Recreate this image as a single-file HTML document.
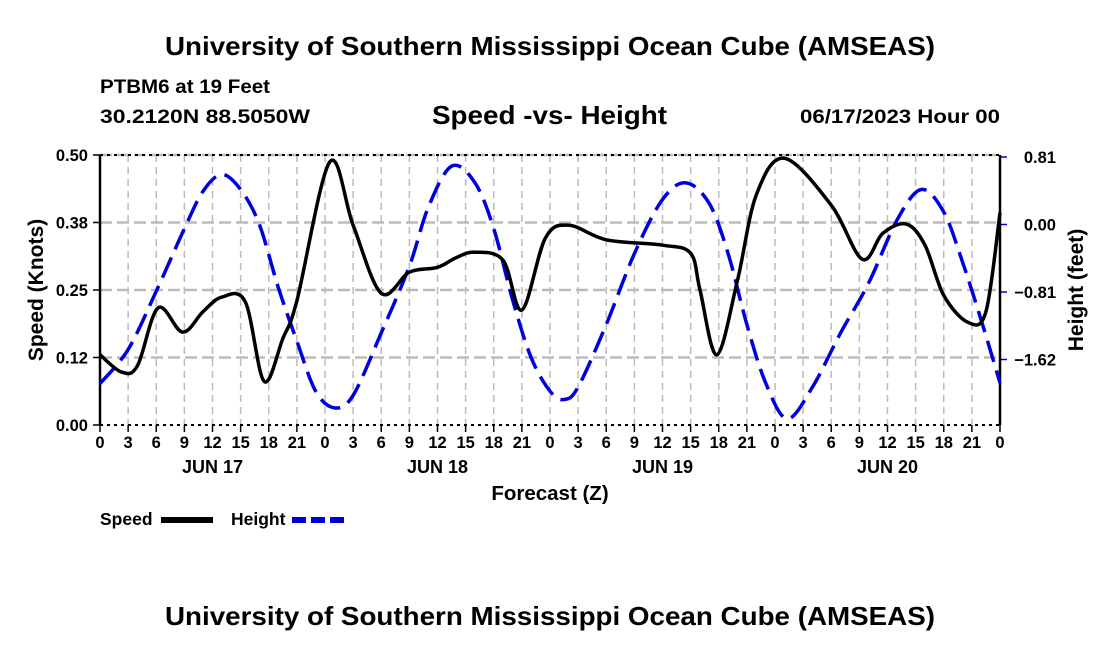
<!DOCTYPE html>
<html><head><meta charset="utf-8"><style>
body{margin:0;background:#fff;}
svg text{font-family:"Liberation Sans",Arial,sans-serif;font-weight:bold;fill:#000;}
</style></head><body>
<svg id="c" width="1100" height="650" xmlns="http://www.w3.org/2000/svg">
<text x="165" y="55" font-size="26" textLength="770" lengthAdjust="spacingAndGlyphs">University of Southern Mississippi Ocean Cube (AMSEAS)</text>
<text x="100" y="93" font-size="19.5" textLength="170" lengthAdjust="spacingAndGlyphs">PTBM6 at 19 Feet</text>
<text x="100" y="123" font-size="19.5" textLength="210" lengthAdjust="spacingAndGlyphs">30.2120N  88.5050W</text>
<text x="432" y="124" font-size="26" textLength="235" lengthAdjust="spacingAndGlyphs">Speed -vs- Height</text>
<text x="800" y="123" font-size="19.5" textLength="200" lengthAdjust="spacingAndGlyphs">06/17/2023 Hour 00</text>
<g id="grid"></g>
<g id="axes"></g>
<g id="series"></g>
<text x="550" y="500" text-anchor="middle" font-size="20.5">Forecast (Z)</text>
<text transform="translate(43,290) rotate(-90)" text-anchor="middle" font-size="21">Speed (Knots)</text>
<text transform="translate(1083,290) rotate(-90)" text-anchor="middle" font-size="21">Height (feet)</text>
<g>
<text x="100" y="525" font-size="17.5">Speed</text>
<rect x="161" y="517" width="52" height="6" fill="#000"/>
<text x="231" y="525" font-size="17.5">Height</text>
<line x1="292" y1="520" x2="344" y2="520" stroke="#0000dd" stroke-width="6" stroke-dasharray="14,5"/>
</g>
<text x="165" y="625" font-size="26" textLength="770" lengthAdjust="spacingAndGlyphs">University of Southern Mississippi Ocean Cube (AMSEAS)</text>
</svg>
<script>
const speedHours=[0,2.3,4,6.2,8.8,11,13,15.5,17.5,19.5,21,24.5,27,30,33,36,38,40,43,45,47.5,50,54,60,63,64,65.8,68,70,73,78,81.3,83.5,86,88,90,92.6,94.5,96];
const speedVals=[0.13,0.098,0.11,0.217,0.172,0.21,0.237,0.228,0.081,0.16,0.23,0.487,0.37,0.244,0.283,0.292,0.31,0.32,0.305,0.213,0.346,0.37,0.343,0.333,0.318,0.25,0.13,0.268,0.426,0.494,0.407,0.307,0.355,0.372,0.333,0.24,0.19,0.21,0.393];
const heightHours=[0,3,6,9,11,13,15,17,19,21,23,25,27,30,33,35,37.5,40,42,44,46,48,49.5,51,54,57,60,62.5,65,67,69,71,73.3,76,79,82,85,87.6,90,92,94,96];
const heightVals=[-1.91,-1.5,-0.8,-0.05,0.4,0.6,0.42,0.0,-0.75,-1.4,-2.0,-2.2,-2.05,-1.3,-0.5,0.2,0.7,0.5,-0.05,-0.9,-1.6,-2.0,-2.1,-1.95,-1.2,-0.35,0.3,0.5,0.25,-0.35,-1.2,-1.9,-2.33,-1.95,-1.3,-0.7,0.05,0.42,0.15,-0.45,-1.15,-1.9];
const xTickLabels=["0","3","6","9","12","15","18","21","0","3","6","9","12","15","18","21","0","3","6","9","12","15","18","21","0","3","6","9","12","15","18","21","0"];
const dayLabels=["JUN 17","JUN 18","JUN 19","JUN 20"];
const leftTicks=[0,0.125,0.25,0.375,0.5];
const leftTickLabels=["0.00","0.12","0.25","0.38","0.50"];
const rightTicks=[0.81,0,-0.81,-1.62];
const rightTickLabels=["0.81","0.00","\u22120.81","\u22121.62"];
const X0=100,X1=1000,Y0=425,Y1=155;
const xs=h=>X0+h/96*(X1-X0);
const ysL=v=>Y0-v/0.5*(Y0-Y1);
const yR=v=>157+(0.81-v)/0.81*67.5;
const NS="http://www.w3.org/2000/svg";
function mk(t,p,parent){const e=document.createElementNS(NS,t);for(const k in p)e.setAttribute(k,p[k]);parent.appendChild(e);return e;}
const grid=document.getElementById('grid'),axes=document.getElementById('axes'),ser=document.getElementById('series');
xTickLabels.forEach((l,i)=>{const x=xs(i*3);
 if(i>0&&i<32){const g=mk('line',{x1:x,y1:Y1,x2:x,y2:Y0,stroke:'#bbb','stroke-width':1.5,'stroke-dasharray':'7,5'},grid);
 
 }
 const tk=mk('line',{x1:x,y1:Y0,x2:x,y2:Y0+7,stroke:'#000','stroke-width':1.5},axes);
 
 
 const t=mk('text',{x:x,y:Y0+23,'text-anchor':'middle','font-size':16.5},axes);t.textContent=l;
 
 
});
dayLabels.forEach((d,i)=>{const t=mk('text',{x:xs(12+24*i),y:Y0+48,'text-anchor':'middle','font-size':18},axes);t.textContent=d;
 
 });
leftTicks.forEach((v,i)=>{const y=ysL(v);
 if(i>0){const g=mk('line',{x1:X0,y1:y,x2:X1,y2:y,stroke:'#bbb','stroke-width':2.5,'stroke-dasharray':'12,5'},grid);
 
 }
 const tk=mk('line',{x1:X0-7,y1:y,x2:X0,y2:y,stroke:'#000','stroke-width':1.5},axes);
 
 
 const t=mk('text',{x:X0-12,y:y+6,'text-anchor':'end','font-size':16.5},axes);t.textContent=leftTickLabels[i];
 
 });
rightTicks.forEach((v,i)=>{const y=yR(v);
 const tk=mk('line',{x1:X1,y1:y,x2:X1+7,y2:y,stroke:'#0000cc','stroke-width':1.5},axes);
 
 
 const t=mk('text',{x:1056,y:y+6,'text-anchor':'end','font-size':16.5},axes);t.textContent=rightTickLabels[i];
 
 });
[Y1,Y0].forEach(y=>{const l=mk('line',{x1:X0,y1:y,x2:X1,y2:y,stroke:'#000','stroke-width':2,'stroke-dasharray':'3,4'},axes);
 
 });
[X0,X1].forEach(x=>{const l=mk('line',{x1:x,y1:Y1,x2:x,y2:Y0,stroke:'#000','stroke-width':2.5},axes);
 
 });
function path(pts){let d=`M${pts[0][0]},${pts[0][1]}`;
 for(let i=0;i<pts.length-1;i++){const p0=pts[Math.max(0,i-1)],p1=pts[i],p2=pts[i+1],p3=pts[Math.min(pts.length-1,i+2)];
 const c1=[p1[0]+(p2[0]-p0[0])/6,p1[1]+(p2[1]-p0[1])/6],c2=[p2[0]-(p3[0]-p1[0])/6,p2[1]-(p3[1]-p1[1])/6];
 d+=` C${c1[0]},${c1[1]} ${c2[0]},${c2[1]} ${p2[0]},${p2[1]}`;}return d;}
const hp=mk('path',{d:path(heightHours.map((h,i)=>[xs(h),yR(heightVals[i])])),fill:'none',stroke:'#0000dd','stroke-width':3.5,'stroke-dasharray':'22,9'},ser);


const sp=mk('path',{d:path(speedHours.map((h,i)=>[xs(h),ysL(speedVals[i])])),fill:'none',stroke:'#000','stroke-width':3.5},ser);


</script>
</body></html>
